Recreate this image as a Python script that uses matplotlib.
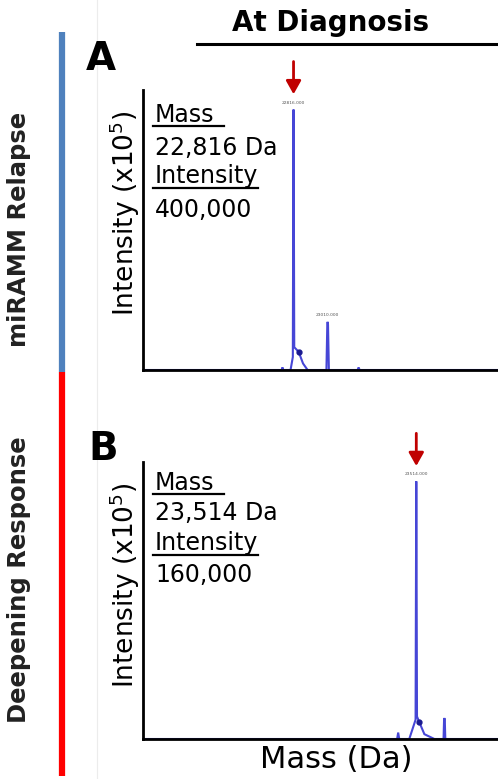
import numpy as np
import matplotlib as mpl
mpl.use('Agg')
from matplotlib import pyplot as plt

## spectrum data (mass in Da, intensity in units of 1e5)
mass_a = [21960, 22740, 22748, 22753, 22758, 22799, 22812, 22815, 22816, 22817,
          22820, 22845, 22870, 22896, 23003, 23008, 23010, 23012, 23017,
          23180, 23186, 23192, 23990]
int_a = [0, 0, 0, 0.04, 0, 0, 0.2, 3.4, 4.0, 3.4,
         0.35, 0.28, 0.1, 0, 0, 0.7, 0.74, 0.7, 0,
         0, 0.04, 0, 0]
centroid_a = [22845]
centroid_int_a = [0.28]

mass_b = [21960, 23405, 23411, 23417, 23474, 23510, 23513, 23514, 23515, 23518,
          23531, 23560, 23617, 23669, 23672, 23674, 23676, 23679, 23990]
int_b = [0, 0, 0.04, 0, 0, 0.12, 1.3, 1.6, 1.3, 0.14,
         0.105, 0.03, 0, 0, 0.12, 0.13, 0.12, 0, 0]
centroid_b = [23531]
centroid_int_b = [0.105]

peak_labels_a = [(22816, 4.0), (23010, 0.74)]
peak_labels_b = [(23514, 1.6)]

info_a = ['Mass', '22,816 Da', 'Intensity', '400,000']
info_b = ['Mass', '23,514 Da', 'Intensity', '160,000']

W, H = 498, 779
plt.rcParams['font.family'] = 'DejaVu Sans'


def ax_rect(left, top, right, bottom):
    return [left / W, 1 - bottom / H, (right - left) / W, (bottom - top) / H]


def spectrum(ax, mass, inten, cmass, cint, labels, ymax):
    ax.plot(mass, inten, color='#4646d6', lw=1.5, solid_joinstyle='miter')
    ax.plot(cmass, cint, 'o', color='#1a1a90', ms=3.5)
    for m, i in labels:
        ax.annotate(f'{m:.3f}', xy=(m, i), xytext=(0, 5), textcoords='offset pixels',
                    ha='center', va='bottom', fontsize=3.2, color='#555555',
                    annotation_clip=False)
    ax.set_xlim(21960, 23990)
    ax.set_ylim(0, ymax)
    ax.set_xticks([])
    ax.set_yticks([])
    for s in ['top', 'right']:
        ax.spines[s].set_visible(False)
    for s in ['left', 'bottom']:
        ax.spines[s].set_linewidth(2.0)
    ax.patch.set_alpha(0)


fig = plt.figure(figsize=(W / 100, H / 100), dpi=100)

ax_a = fig.add_axes(ax_rect(143, 90, 500, 370))
spectrum(ax_a, mass_a, int_a, centroid_a, centroid_int_a, peak_labels_a, 4.3)
ax_b = fig.add_axes(ax_rect(143, 462, 500, 739))
spectrum(ax_b, mass_b, int_b, centroid_b, centroid_int_b, peak_labels_b, 1.72)

# red arrows pointing at the main peaks
for ax, (m, i) in [(ax_a, peak_labels_a[0]), (ax_b, peak_labels_b[0])]:
    ax.annotate('', xy=(m, i), xytext=(0, 48), textcoords='offset pixels',
                arrowprops=dict(arrowstyle='-|>,head_width=0.45,head_length=0.8',
                                color='#c00000', lw=2.0, shrinkA=0, shrinkB=11),
                annotation_clip=False)

## overlay in pixel coordinates for the figure furniture
ov = fig.add_axes([0, 0, 1, 1])
ov.set_xlim(0, W)
ov.set_ylim(H, 0)
ov.axis('off')

ov.plot([97, 97], [0, H], color='#ececec', lw=0.8)
ov.plot([62, 62], [32, 372], color='#4f81bd', lw=4.5, solid_capstyle='butt')
ov.plot([62, 62], [372, 776], color='#ff0000', lw=4.5, solid_capstyle='butt')

ov.text(19, 229, 'miRAMM Relapse', rotation=90, ha='center', va='center',
        fontsize=17.5, fontweight='bold', color='#222222')
ov.text(19, 580, 'Deepening Response', rotation=90, ha='center', va='center',
        fontsize=17.5, fontweight='bold', color='#222222')

ov.text(331, 23, 'At Diagnosis', ha='center', va='center', fontsize=20,
        fontweight='bold')
ov.plot([197, 498], [44, 44], color='black', lw=2.2)

ov.text(101, 59, 'A', ha='center', va='center', fontsize=28, fontweight='bold')
ov.text(103, 449, 'B', ha='center', va='center', fontsize=28, fontweight='bold')

ylab = 'Intensity (x10$^5$)'
ov.text(125, 213, ylab, rotation=90, ha='center', va='center', fontsize=19)
ov.text(125, 585, ylab, rotation=90, ha='center', va='center', fontsize=19)
ov.text(336, 760, 'Mass (Da)', ha='center', va='center', fontsize=22)

# info boxes with underlined headings
for info, bases, ulen in [(info_a, [122, 155, 183, 217], [224, 258]),
                          (info_b, [490, 520, 550, 582], [224, 258])]:
    for txt, yb in zip(info, bases):
        ov.text(155, yb, txt, ha='left', va='baseline', fontsize=17)
    ov.plot([153, ulen[0]], [bases[0] + 4, bases[0] + 4], color='black', lw=1.6)
    ov.plot([153, ulen[1]], [bases[2] + 5, bases[2] + 5], color='black', lw=1.6)

fig.savefig('out.png', dpi=100)
